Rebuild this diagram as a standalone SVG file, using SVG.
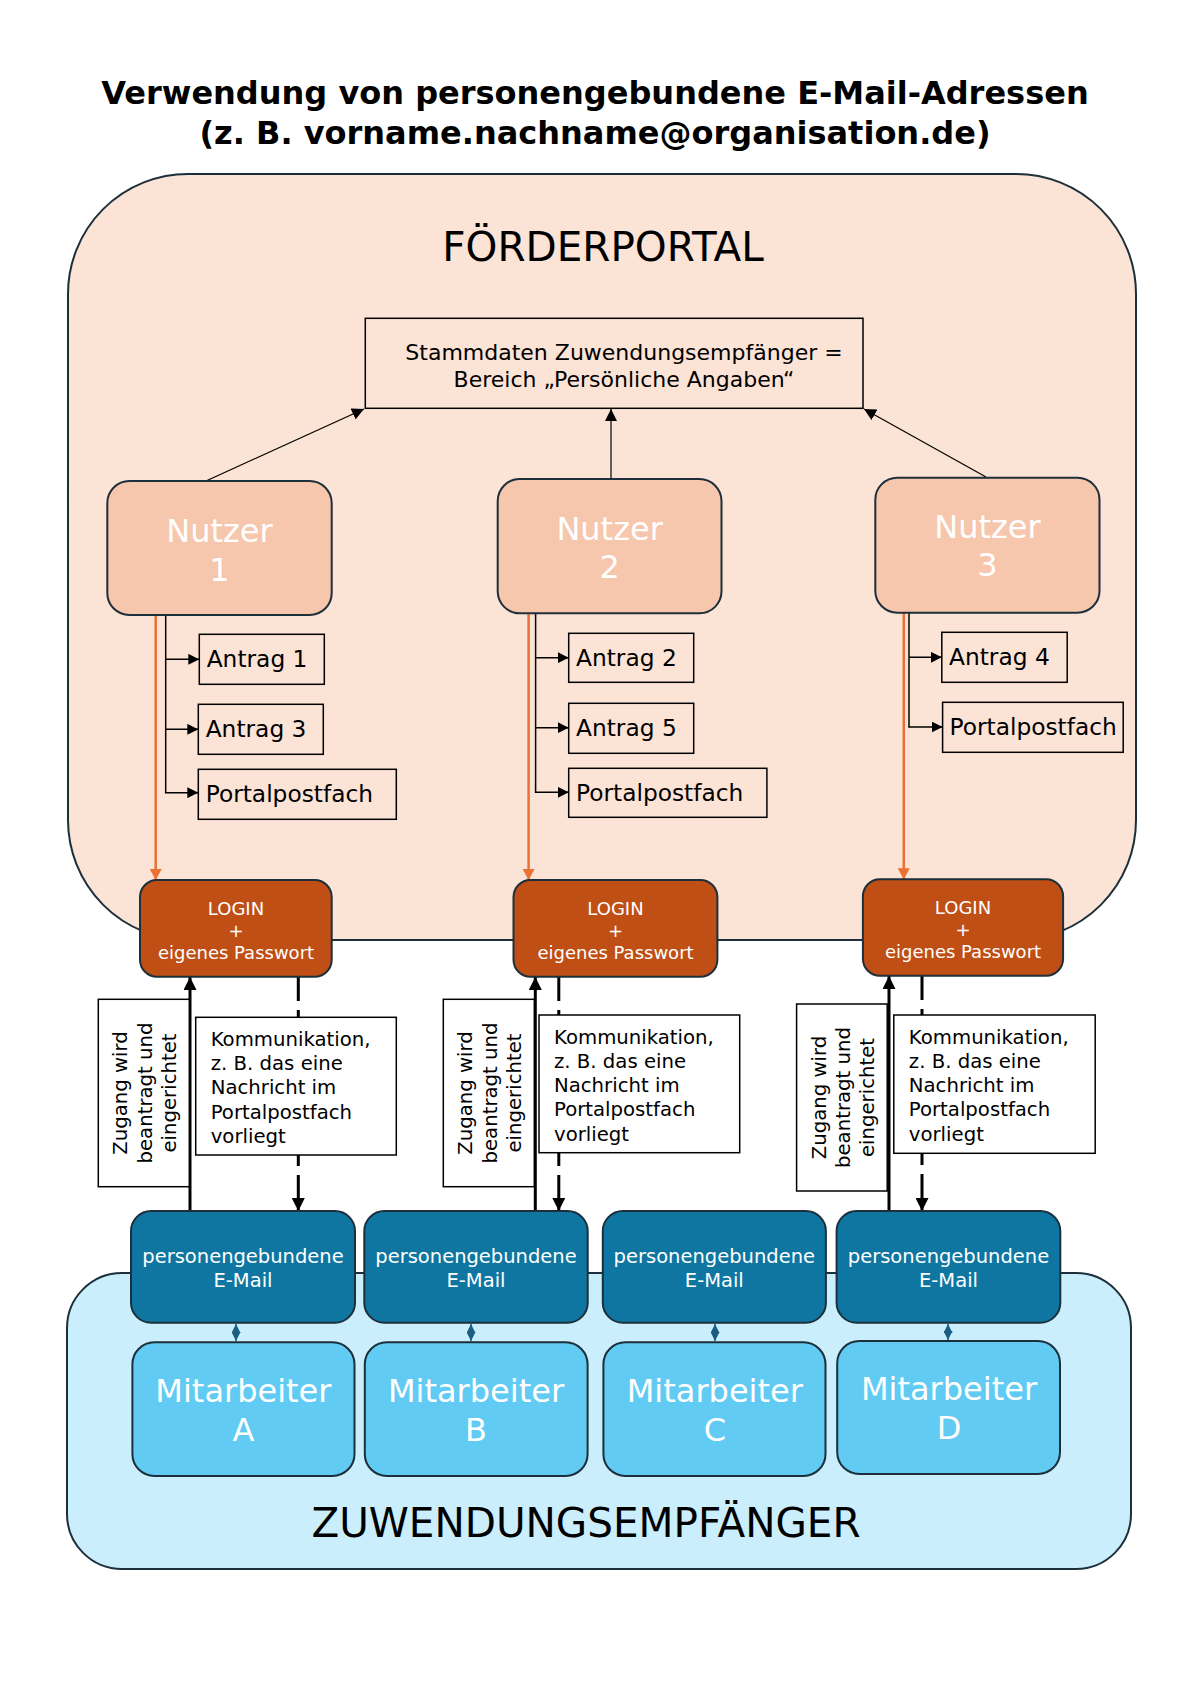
<svg xmlns="http://www.w3.org/2000/svg" width="1190" height="1683" viewBox="0 0 1190 1683">
<style>
text{font-family:"DejaVu Sans","Verdana",sans-serif}
.title{font-size:32px;font-weight:bold;fill:#000;text-anchor:middle}
.big{font-size:40.5px;fill:#000;text-anchor:middle}
.nut{fill:#F6C6AD;stroke:#1c2f3b;stroke-width:2}
.nutt{font-size:32px;fill:#fff;text-anchor:middle}
.box{fill:none;stroke:#000;stroke-width:1.5}
.wbox{fill:#fff;stroke:#000;stroke-width:1.5}
.bt{font-size:23.3px;fill:#000}
.login{fill:#C04F15;stroke:#1c2f3b;stroke-width:2}
.lt{font-size:18px;fill:#fff;text-anchor:middle}
.mail{fill:#0E76A0;stroke:#1c2f3b;stroke-width:2}
.mt{font-size:19.5px;fill:#fff;text-anchor:middle}
.mit{fill:#61CBF3;stroke:#1c2f3b;stroke-width:2}
.st{font-size:19.7px;fill:#000}
.thin{stroke:#000;stroke-width:1.2;fill:none}
.tree{stroke:#000;stroke-width:1.5;fill:none}
.or{stroke:#E97132;stroke-width:2.5;fill:none}
.thick{stroke:#000;stroke-width:3;fill:none}
.dash{stroke:#000;stroke-width:3;fill:none;stroke-dasharray:24 9}
.dia{stroke:#1B5E82;stroke-width:1.5;fill:none}
</style>
<defs>
<marker id="ah" markerUnits="userSpaceOnUse" markerWidth="12" markerHeight="12" refX="12" refY="6" orient="auto"><path d="M0,0 L12,6 L0,12 z" fill="#000"/></marker>
<marker id="ahs" markerUnits="userSpaceOnUse" markerWidth="11" markerHeight="11" refX="11" refY="5.5" orient="auto"><path d="M0,0 L11,5.5 L0,11 z" fill="#000"/></marker>
<marker id="aor" markerUnits="userSpaceOnUse" markerWidth="11" markerHeight="12" refX="11" refY="6" orient="auto"><path d="M0,0 L11,6 L0,12 z" fill="#E97132"/></marker>
<marker id="ath" markerUnits="userSpaceOnUse" markerWidth="13" markerHeight="13" refX="13" refY="6.5" orient="auto"><path d="M0,0 L13,6.5 L0,13 z" fill="#000"/></marker>
<marker id="adia" markerUnits="userSpaceOnUse" markerWidth="9" markerHeight="9" refX="9" refY="4.5" orient="auto-start-reverse"><path d="M0,0 L9,4.5 L0,9 z" fill="#1B5E82"/></marker>
</defs>
<rect width="1190" height="1683" fill="#fff"/>

<g id="title">
<text class="title" x="595" y="104">Verwendung von personengebundene E-Mail-Adressen</text>
<text class="title" x="595" y="144">(z. B. vorname.nachname@organisation.de)</text>
</g>

<g id="foerderportal">
<rect x="68" y="174" width="1068" height="766" rx="120" ry="120" fill="#FBE3D6" stroke="#1c2f3b" stroke-width="2"/>
<text class="big" x="603" y="261">FÖRDERPORTAL</text>
</g>

<g id="zuwendungsempfaenger">
<rect x="67" y="1273" width="1064" height="296" rx="55" ry="55" fill="#CAEEFB" stroke="#1c2f3b" stroke-width="2"/>
<text class="big" x="586" y="1537">ZUWENDUNGSEMPFÄNGER</text>
</g>

<g id="stammdaten">
<rect class="box" x="365.3" y="318.3" width="497.7" height="90"/>
<text style="font-size:22px;text-anchor:middle" x="624" y="360">Stammdaten Zuwendungsempfänger =</text>
<text style="font-size:22px;text-anchor:middle" x="624" y="387">Bereich „Persönliche Angaben“</text>
</g>

<g id="connectors">
<line class="thin" x1="206" y1="481" x2="364" y2="409" marker-end="url(#ah)"/>
<line class="thin" x1="611" y1="479" x2="611" y2="409" marker-end="url(#ah)"/>
<line class="thin" x1="986" y1="477" x2="864" y2="409" marker-end="url(#ah)"/>

<path class="tree" d="M165.7,615 V792.7"/>
<line class="tree" x1="165.7" y1="659.3" x2="199.3" y2="659.3" marker-end="url(#ahs)"/>
<line class="tree" x1="165.7" y1="729.3" x2="198.3" y2="729.3" marker-end="url(#ahs)"/>
<line class="tree" x1="164.9" y1="792.7" x2="198.3" y2="792.7" marker-end="url(#ahs)"/>

<path class="tree" d="M535.6,613.3 V792.3"/>
<line class="tree" x1="535.6" y1="657.7" x2="568.7" y2="657.7" marker-end="url(#ahs)"/>
<line class="tree" x1="535.6" y1="727.7" x2="568.7" y2="727.7" marker-end="url(#ahs)"/>
<line class="tree" x1="534.8" y1="792.3" x2="568.7" y2="792.3" marker-end="url(#ahs)"/>

<path class="tree" d="M909,612.7 V727"/>
<line class="tree" x1="909" y1="657.3" x2="941.8" y2="657.3" marker-end="url(#ahs)"/>
<line class="tree" x1="908.2" y1="727" x2="942.6" y2="727" marker-end="url(#ahs)"/>

<line class="or" x1="155.7" y1="615" x2="155.7" y2="880" marker-end="url(#aor)"/>
<line class="or" x1="528.6" y1="613.3" x2="528.6" y2="880" marker-end="url(#aor)"/>
<line class="or" x1="903.8" y1="612.7" x2="903.8" y2="879.3" marker-end="url(#aor)"/>

<line class="thick" x1="190" y1="1211" x2="190" y2="977" marker-end="url(#ath)"/>
<line class="thick" x1="535.3" y1="1211" x2="535.3" y2="977" marker-end="url(#ath)"/>
<line class="thick" x1="889" y1="1211" x2="889" y2="976" marker-end="url(#ath)"/>

<line class="dash" x1="298.3" y1="977" x2="298.3" y2="1211" marker-end="url(#ath)"/>
<line class="dash" x1="558.8" y1="977" x2="558.8" y2="1211" marker-end="url(#ath)"/>
<line class="dash" x1="922" y1="976" x2="922" y2="1211" marker-end="url(#ath)"/>

<line class="dia" x1="236" y1="1324" x2="236" y2="1341" marker-start="url(#adia)" marker-end="url(#adia)"/>
<line class="dia" x1="471" y1="1324" x2="471" y2="1341" marker-start="url(#adia)" marker-end="url(#adia)"/>
<line class="dia" x1="715" y1="1324" x2="715" y2="1341" marker-start="url(#adia)" marker-end="url(#adia)"/>
<line class="dia" x1="948" y1="1324" x2="948" y2="1340" marker-start="url(#adia)" marker-end="url(#adia)"/>
</g>

<g id="nutzer1">
<rect class="nut" x="107.3" y="481" width="224.4" height="134" rx="22"/>
<text class="nutt" x="219.5" y="541.7">Nutzer</text>
<text class="nutt" x="219.5" y="580.7">1</text>
</g>
<g id="nutzer2">
<rect class="nut" x="497.7" y="479" width="223.8" height="134.3" rx="22"/>
<text class="nutt" x="609.6" y="539.5">Nutzer</text>
<text class="nutt" x="609.6" y="578">2</text>
</g>
<g id="nutzer3">
<rect class="nut" x="875.3" y="477.7" width="224.2" height="135" rx="22"/>
<text class="nutt" x="987.4" y="537.7">Nutzer</text>
<text class="nutt" x="987.4" y="576.3">3</text>
</g>

<g id="antrag1"><rect class="box" x="199.3" y="634.3" width="125" height="50"/><text class="bt" x="206.7" y="666.7">Antrag 1</text></g>
<g id="antrag3"><rect class="box" x="198.3" y="704.3" width="125" height="50"/><text class="bt" x="205.7" y="736.7">Antrag 3</text></g>
<g id="portalpostfach1"><rect class="box" x="198.3" y="769.3" width="198" height="50"/><text class="bt" x="205.7" y="801.5">Portalpostfach</text></g>

<g id="antrag2"><rect class="box" x="568.7" y="633.3" width="125" height="49"/><text class="bt" x="576" y="665.5">Antrag 2</text></g>
<g id="antrag5"><rect class="box" x="568.7" y="703.3" width="125" height="50"/><text class="bt" x="576" y="735.5">Antrag 5</text></g>
<g id="portalpostfach2"><rect class="box" x="568.7" y="768.3" width="198.2" height="49"/><text class="bt" x="576" y="800.5">Portalpostfach</text></g>

<g id="antrag4"><rect class="box" x="941.8" y="632.3" width="125.4" height="50"/><text class="bt" x="949" y="664.5">Antrag 4</text></g>
<g id="portalpostfach3"><rect class="box" x="942.6" y="702.3" width="180.6" height="50"/><text class="bt" x="949.5" y="734.5">Portalpostfach</text></g>

<g id="login1">
<rect class="login" x="140" y="880" width="191.7" height="96.7" rx="17"/>
<text class="lt" x="236" y="914.5">LOGIN</text><text class="lt" x="236" y="936.8">+</text><text class="lt" x="236" y="959">eigenes Passwort</text>
</g>
<g id="login2">
<rect class="login" x="513.5" y="880" width="203.9" height="96.7" rx="17"/>
<text class="lt" x="615.5" y="914.5">LOGIN</text><text class="lt" x="615.5" y="936.8">+</text><text class="lt" x="615.5" y="959">eigenes Passwort</text>
</g>
<g id="login3">
<rect class="login" x="862.9" y="879.3" width="200.2" height="96.4" rx="17"/>
<text class="lt" x="963" y="913.7">LOGIN</text><text class="lt" x="963" y="936">+</text><text class="lt" x="963" y="958.2">eigenes Passwort</text>
</g>

<g id="zugang1">
<rect class="wbox" x="98.3" y="999.3" width="91" height="187.4"/>
<text class="st" text-anchor="middle" transform="translate(98.3,1093) rotate(-90)"><tspan x="0" y="29">Zugang wird</tspan><tspan x="0" y="53.4">beantragt und</tspan><tspan x="0" y="77.7">eingerichtet</tspan></text>
</g>
<g id="zugang2">
<rect class="wbox" x="443.3" y="999.3" width="91" height="187.4"/>
<text class="st" text-anchor="middle" transform="translate(443.3,1093) rotate(-90)"><tspan x="0" y="29">Zugang wird</tspan><tspan x="0" y="53.4">beantragt und</tspan><tspan x="0" y="77.7">eingerichtet</tspan></text>
</g>
<g id="zugang3">
<rect class="wbox" x="796.6" y="1004" width="90.6" height="187"/>
<text class="st" text-anchor="middle" transform="translate(796.6,1097.5) rotate(-90)"><tspan x="0" y="29">Zugang wird</tspan><tspan x="0" y="53.4">beantragt und</tspan><tspan x="0" y="77.7">eingerichtet</tspan></text>
</g>

<g id="kommunikation1">
<rect class="wbox" x="195.7" y="1017.3" width="200.6" height="137.7"/>
<text class="st"><tspan x="210.7" y="1046">Kommunikation,</tspan><tspan x="210.7" y="1070.2">z. B. das eine</tspan><tspan x="210.7" y="1094.4">Nachricht im</tspan><tspan x="210.7" y="1118.6">Portalpostfach</tspan><tspan x="210.7" y="1142.8">vorliegt</tspan></text>
</g>
<g id="kommunikation2">
<rect class="wbox" x="539" y="1015" width="200.7" height="137.7"/>
<text class="st"><tspan x="554" y="1043.7">Kommunikation,</tspan><tspan x="554" y="1067.9">z. B. das eine</tspan><tspan x="554" y="1092.1">Nachricht im</tspan><tspan x="554" y="1116.3">Portalpostfach</tspan><tspan x="554" y="1140.5">vorliegt</tspan></text>
</g>
<g id="kommunikation3">
<rect class="wbox" x="893.8" y="1015" width="201.4" height="138.3"/>
<text class="st"><tspan x="908.8" y="1043.7">Kommunikation,</tspan><tspan x="908.8" y="1067.9">z. B. das eine</tspan><tspan x="908.8" y="1092.1">Nachricht im</tspan><tspan x="908.8" y="1116.3">Portalpostfach</tspan><tspan x="908.8" y="1140.5">vorliegt</tspan></text>
</g>

<g id="email1"><rect class="mail" x="131" y="1211" width="224" height="111.7" rx="20"/><text class="mt" x="243" y="1263.3">personengebundene</text><text class="mt" x="243" y="1286.7">E-Mail</text></g>
<g id="email2"><rect class="mail" x="364.3" y="1211" width="223.4" height="111.7" rx="20"/><text class="mt" x="476" y="1263.3">personengebundene</text><text class="mt" x="476" y="1286.7">E-Mail</text></g>
<g id="email3"><rect class="mail" x="602.8" y="1211" width="223.1" height="111.7" rx="20"/><text class="mt" x="714.3" y="1263.3">personengebundene</text><text class="mt" x="714.3" y="1286.7">E-Mail</text></g>
<g id="email4"><rect class="mail" x="836.6" y="1211" width="223.7" height="111.7" rx="20"/><text class="mt" x="948.5" y="1263.3">personengebundene</text><text class="mt" x="948.5" y="1286.7">E-Mail</text></g>

<g id="mitarbeiterA"><rect class="mit" x="132.4" y="1342.3" width="222.1" height="133.7" rx="22"/><text class="nutt" x="243.4" y="1401.7">Mitarbeiter</text><text class="nutt" x="243.4" y="1440.7">A</text></g>
<g id="mitarbeiterB"><rect class="mit" x="364.8" y="1342.3" width="222.8" height="133.7" rx="22"/><text class="nutt" x="476" y="1401.7">Mitarbeiter</text><text class="nutt" x="476" y="1440.7">B</text></g>
<g id="mitarbeiterC"><rect class="mit" x="603.4" y="1342.3" width="222.1" height="133.7" rx="22"/><text class="nutt" x="714.8" y="1401.7">Mitarbeiter</text><text class="nutt" x="714.8" y="1440.7">C</text></g>
<g id="mitarbeiterD"><rect class="mit" x="837.2" y="1341" width="222.8" height="133" rx="22"/><text class="nutt" x="949" y="1400">Mitarbeiter</text><text class="nutt" x="949" y="1439">D</text></g>
</svg>
